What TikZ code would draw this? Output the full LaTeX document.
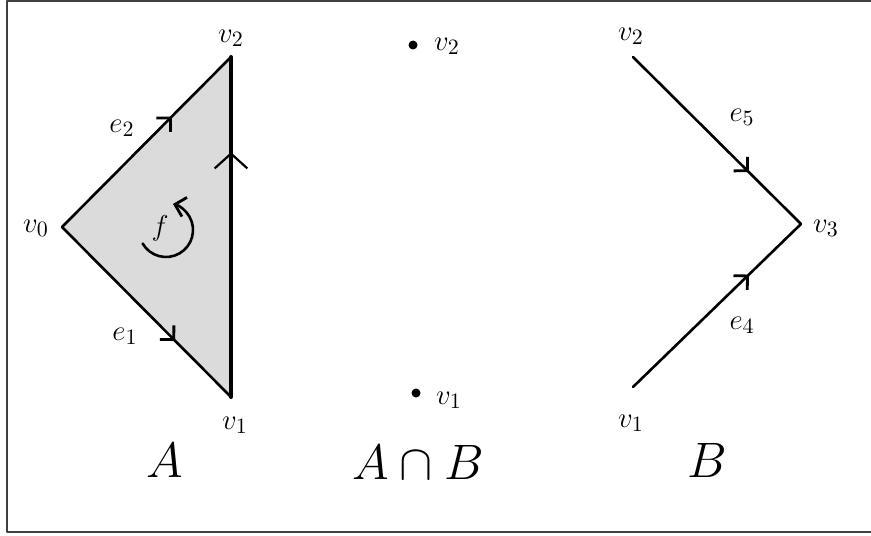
\documentclass[tikz,border=0pt]{standalone}
\usetikzlibrary{arrows.meta,decorations.markings}
\tikzset{
  lbl/.style={inner sep=0pt, font=\fontsize{15}{18}\selectfont},
  biglbl/.style={inner sep=0pt, font=\fontsize{28}{32}\selectfont},
  edge/.style={line width=1.3pt},
  midarrow/.style={postaction={decorate}, decoration={markings,
      mark=at position #1 with {\arrow{Straight Barb[angle=90:7pt, line width=1.4pt]}}}},
  uparrow/.style={postaction={decorate}, decoration={markings,
      mark=at position #1 with {\arrow{Straight Barb[angle=96:11pt, line width=1.1pt]}}}},
}
\begin{document}
\begin{tikzpicture}[x=0.5pt, y=-0.5pt, line join=round, line cap=round]
	\useasboundingbox (0,0) rectangle (871,535);
	% Khung
	\draw[line width=1.2pt, black!75, line cap=butt] (880,1) -- (7,1) -- (7,532) -- (880,532);
	
	% Hình A: tam giác
	\coordinate (a0) at (62,227);
	\coordinate (a1) at (231,397);
	\coordinate (a2) at (231,57);
	\fill[black!14] (a0) -- (a1) -- (a2) -- cycle;
	\draw[edge, midarrow=0.67] (a0) -- (a1);
	\draw[edge, midarrow=0.65] (a0) -- (a2);
	\draw[line width=2pt, uparrow=0.72] (a1) -- (a2);
	\node[lbl] (lv0) at (36,228) {$v_0$};
	\node[lbl] (lv1a) at (235,425) {$v_1$};
	\node[lbl] (lv2a) at (231,38) {$v_2$};
	\node[lbl] (le1) at (125,336) {$e_1$};
	\node[lbl] (le2) at (122,128) {$e_2$};
	\node[lbl] (lf) at (160,228) {$f$};
	\draw[line width=1.3pt, -{Straight Barb[angle=90:7pt, line width=1.4pt]}]
		(166,230) ++(150:27) arc[start angle=150, end angle=-75, radius=27];
	\node[biglbl] (lA) at (165,460) {$A$};
	
	% Giao A và B
	\coordinate (c2) at (413,45);
	\coordinate (c1) at (416,393);
	\fill (c2) circle[radius=4.5];
	\fill (c1) circle[radius=4.5];
	\node[lbl] (lv2c) at (447,46) {$v_2$};
	\node[lbl] (lv1c) at (449,400) {$v_1$};
	\node[biglbl] (lAB) at (418,462) {$A\cap B$};
	
	% Hình B
	\coordinate (b1) at (633,387);
	\coordinate (b2) at (633,57);
	\coordinate (b3) at (801,224);
	\draw[edge, midarrow=0.69] (b2) -- (b3);
	\draw[edge, midarrow=0.69] (b1) -- (b3);
	\node[lbl] (lv2b) at (631,36) {$v_2$};
	\node[lbl] (lv1b) at (631,423) {$v_1$};
	\node[lbl] (lv3) at (826,228) {$v_3$};
	\node[lbl] (le5) at (742,117) {$e_5$};
	\node[lbl] (le4) at (742,325) {$e_4$};
	\node[biglbl] (lB) at (707,460) {$B$};
\end{tikzpicture}
\end{document}
